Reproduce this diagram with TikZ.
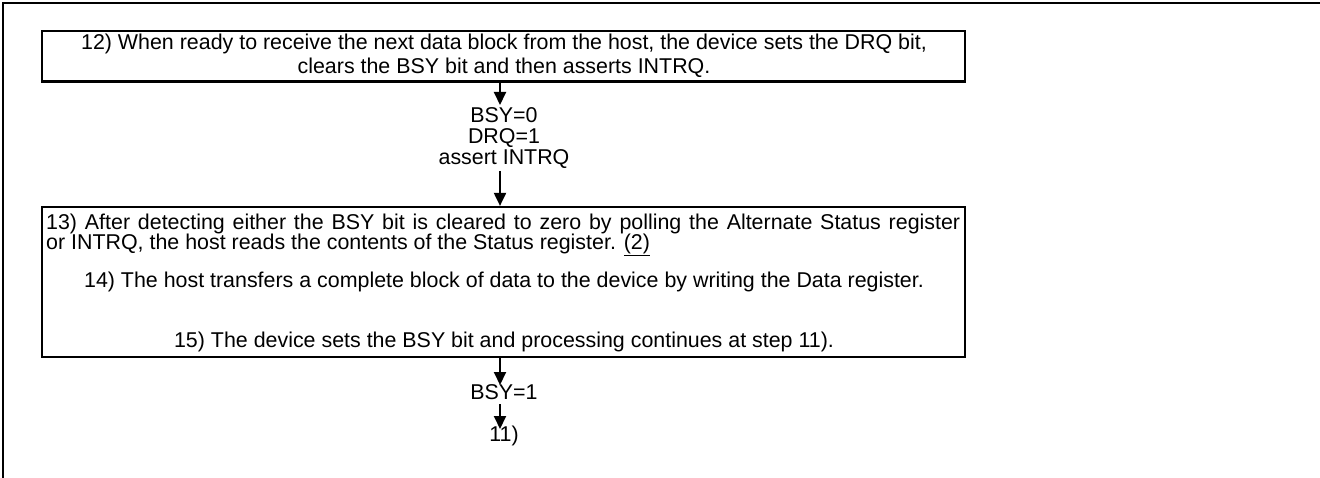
\documentclass[tikz,border=0pt]{standalone}
\usepackage{fontspec}
\setmainfont{Liberation Sans}
\usetikzlibrary{arrows.meta}
\begin{document}
\begin{tikzpicture}[x=1pt,y=-1pt,
  frameline/.style={line width=2.7pt},
  stepbox/.style={draw,line width=2.2pt,rectangle,inner sep=0pt},
  txt/.style={anchor=base,inner sep=0pt,font=\fontsize{21.4}{24.6}\selectfont},
  flow/.style={line width=2pt,-{Triangle[length=13pt,width=12pt]}}]
\useasboundingbox (0,0) rectangle (1320,478);
% page frame (top and left edges)
\draw[frameline] (3,478) -- (3,3) -- (1320,3);
% step 12 box
\node[stepbox,minimum width=923pt,minimum height=50.5pt] (box1) at (503.5,56.25) {};
\node[txt] (t12a) at (504,49.5) {12) When ready to receive the next data block from the host, the device sets the DRQ bit,};
\node[txt] (t12b) at (504,74) {clears the BSY bit and then asserts INTRQ.};
% state after step 12
\coordinate (a1) at (500,105);
\node[txt] (s1) at (504,123) {BSY=0};
\node[txt] (s2) at (504,144) {DRQ=1};
\node[txt] (s3) at (504,165) {assert INTRQ};
\coordinate (a2) at (500,171);
% steps 13 to 15 box
\node[stepbox,minimum width=923pt,minimum height=150pt] (box2) at (503.5,282) {};
\node[txt,anchor=base west] (t13a) at (46,229.5) {\makebox[914pt][s]{13) After detecting either the BSY bit is cleared to zero by polling the Alternate Status register}};
\node[txt,anchor=base west] (t13b) at (46,249.5) {or INTRQ, the host reads the contents of the Status register. \underline{(2)}};
\node[txt] (t14) at (504,288) {14) The host transfers a complete block of data to the device by writing the Data register.};
\node[txt] (t15) at (504,348) {15) The device sets the BSY bit and processing continues at step 11).};
% state after step 15
\coordinate (a3) at (500,385);
\node[txt] (s4) at (504,399) {BSY=1};
\coordinate (a4b) at (500,404);
\coordinate (a4) at (500,429);
\node[txt] (s5) at (504,441) {11)};
% connectors
\draw[flow] ([xshift=-3.5pt]box1.south) -- (a1);
\draw[flow] (a2) -- ([xshift=-3.5pt]box2.north);
\draw[flow] ([xshift=-3.5pt]box2.south) -- (a3);
\draw[flow] (a4b) -- (a4);
\end{tikzpicture}
\end{document}
